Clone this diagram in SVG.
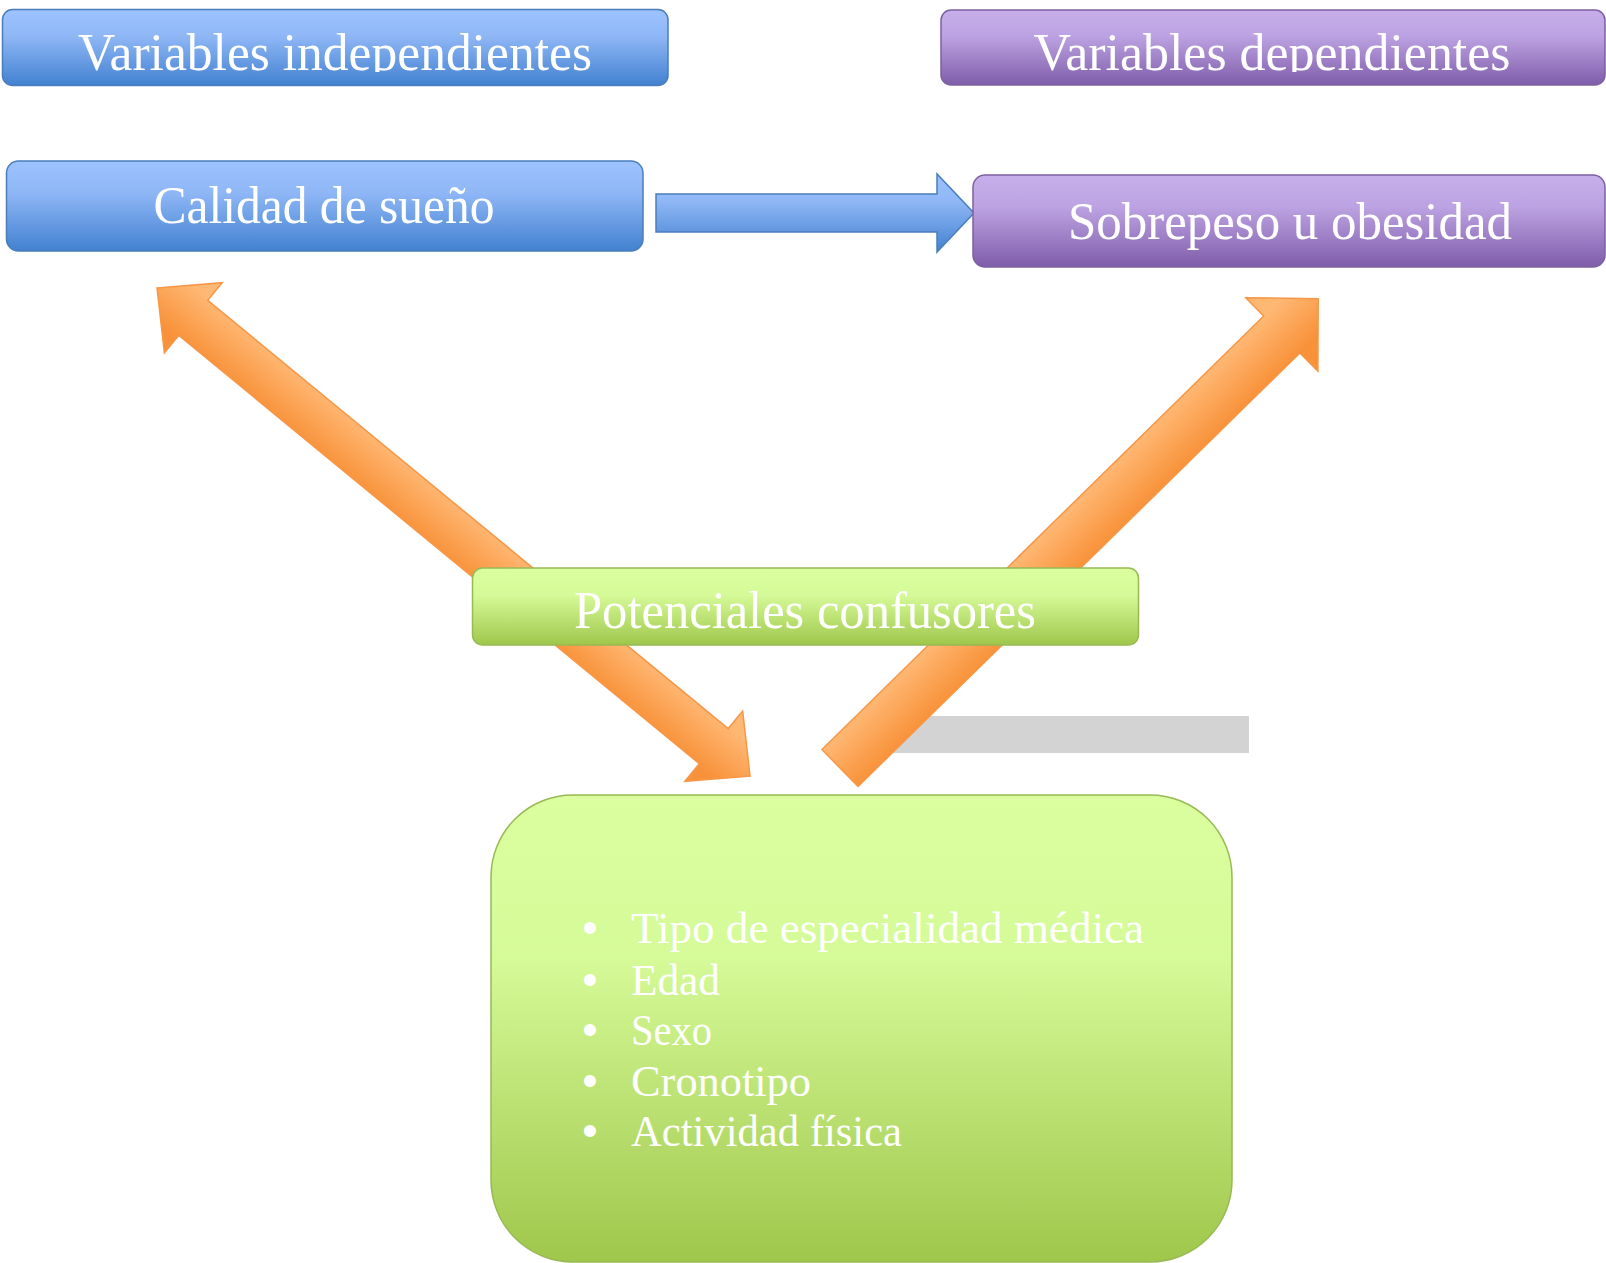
<svg xmlns="http://www.w3.org/2000/svg" width="1606" height="1263" viewBox="0 0 1606 1263">
  <defs>
    <linearGradient id="gBlue" x1="0" y1="0" x2="0" y2="1">
      <stop offset="0" stop-color="#9DC3FF"/>
      <stop offset="0.35" stop-color="#8FB7F6"/>
      <stop offset="1" stop-color="#4281D0"/>
    </linearGradient>
    <linearGradient id="gPurple" x1="0" y1="0" x2="0" y2="1">
      <stop offset="0" stop-color="#C7AFEB"/>
      <stop offset="0.35" stop-color="#BCA2E2"/>
      <stop offset="1" stop-color="#7F5DA9"/>
    </linearGradient>
    <linearGradient id="gGreen" x1="0" y1="0" x2="0" y2="1">
      <stop offset="0" stop-color="#DBFF9F"/>
      <stop offset="0.35" stop-color="#D5FA98"/>
      <stop offset="1" stop-color="#9FC74B"/>
    </linearGradient>
    <linearGradient id="gOrange" gradientUnits="userSpaceOnUse" x1="0" y1="-26" x2="0" y2="26">
      <stop offset="0" stop-color="#FFB874"/>
      <stop offset="1" stop-color="#F8923A"/>
    </linearGradient>
    <clipPath id="headClip">
      <rect x="0" y="0" width="1606" height="72"/>
    </clipPath>
  </defs>
  <style>
    .blue { fill: url(#gBlue); stroke: #4A7EBB; stroke-width: 1.5; }
    .purple { fill: url(#gPurple); stroke: #7D60A0; stroke-width: 1.5; }
    .green { fill: url(#gGreen); stroke: #98B954; stroke-width: 1.5; }
    .orange { fill: url(#gOrange); stroke: #F79646; stroke-width: 1.5; stroke-linejoin: miter; }
    .label { font-family: "Liberation Serif", "DejaVu Serif", serif; font-size: 53px; fill: #FFFFFF; text-anchor: middle; }
    .item { font-family: "Liberation Serif", "DejaVu Serif", serif; font-size: 44px; fill: #FFFFFF; }
    .bullet { font-family: "Liberation Sans", Arial, sans-serif; font-size: 44px; fill: #FFFFFF; text-anchor: middle; }
  </style>

  <!-- grey bar behind the right arrow -->
  <rect x="872" y="716" width="377" height="37" fill="#D3D3D3"/>

  <g id="connectors">
    <!-- sleep quality -> overweight -->
    <polygon class="blue" points="656,194 937,194 937,174 974,213 937,252 937,232 656,232"/>
    <!-- confounders <-> sleep quality (double headed) -->
    <polygon class="orange" transform="translate(157 288) rotate(39.45)"
             points="0,0 47,-45.5 47,-22.7 721,-22.7 721,-45.5 768,0 721,45.5 721,22.7 47,22.7 47,45.5"/>
    <!-- confounders -> overweight -->
    <polygon class="orange" transform="translate(840 768) rotate(-44.46)"
             points="0,-25.8 619,-25.8 619,-51.5 670,0 619,51.5 619,25.8 0,25.8"/>
  </g>

  <g id="header-independientes">
    <rect class="blue" x="2.5" y="9.5" width="665.5" height="76" rx="10"/>
    <text class="label" x="335" y="70" textLength="514" lengthAdjust="spacingAndGlyphs" clip-path="url(#headClip)">Variables independientes</text>
  </g>

  <g id="header-dependientes">
    <rect class="purple" x="941" y="10" width="664" height="75" rx="10"/>
    <text class="label" x="1272" y="70" textLength="477" lengthAdjust="spacingAndGlyphs" clip-path="url(#headClip)">Variables dependientes</text>
  </g>

  <g id="node-calidad">
    <rect class="blue" x="6.5" y="161" width="636.5" height="90" rx="12"/>
    <text class="label" x="324" y="223" textLength="341" lengthAdjust="spacingAndGlyphs">Calidad de sueño</text>
  </g>

  <g id="node-sobrepeso">
    <rect class="purple" x="973" y="175" width="632" height="92" rx="12"/>
    <text class="label" x="1290" y="239" textLength="444" lengthAdjust="spacingAndGlyphs">Sobrepeso u obesidad</text>
  </g>

  <g id="node-confusores">
    <rect class="green" x="472.5" y="568" width="666" height="77" rx="10"/>
    <text class="label" x="805" y="628" textLength="462" lengthAdjust="spacingAndGlyphs">Potenciales confusores</text>
  </g>

  <g id="node-lista">
    <rect class="green" x="491" y="795" width="741" height="467" rx="82"/>
    <text class="bullet" x="590" y="943">•</text>
    <text class="item" x="631" y="943" textLength="513" lengthAdjust="spacingAndGlyphs">Tipo de especialidad médica</text>
    <text class="bullet" x="590" y="995">•</text>
    <text class="item" x="631" y="995" textLength="89" lengthAdjust="spacingAndGlyphs">Edad</text>
    <text class="bullet" x="590" y="1045">•</text>
    <text class="item" x="631" y="1045" textLength="81" lengthAdjust="spacingAndGlyphs">Sexo</text>
    <text class="bullet" x="590" y="1096">•</text>
    <text class="item" x="631" y="1096" textLength="180" lengthAdjust="spacingAndGlyphs">Cronotipo</text>
    <text class="bullet" x="590" y="1146">•</text>
    <text class="item" x="631" y="1146" textLength="271" lengthAdjust="spacingAndGlyphs">Actividad física</text>
  </g>
</svg>
